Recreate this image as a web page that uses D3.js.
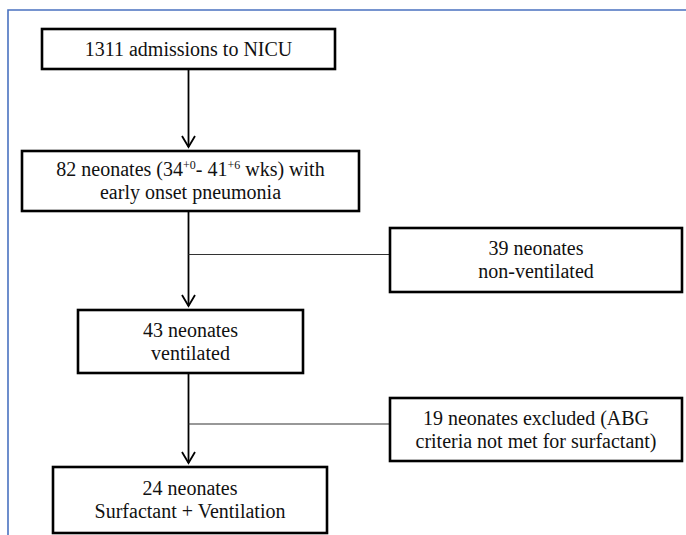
<!DOCTYPE html>
<html>
<head>
<meta charset="utf-8">
<script src="https://cdn.jsdelivr.net/npm/d3@7"></script>
<style>
  html, body { margin: 0; padding: 0; background: #fff; }
  svg { display: block; }
  .box { fill: #fff; stroke: #000; stroke-width: 2.6; }
  .flow { stroke: #000; stroke-width: 1.8; fill: none; }
  .branch { stroke: #333; stroke-width: 1.1; fill: none; }
</style>
</head>
<body>
<svg id="chart"></svg>
<script>
// --- Flow data ---
const nodeIds = ["admit", "pneumonia", "nonvent", "vent", "excluded", "surf"];
const nodeCounts = [1311, 82, 39, 43, 19, 24];
const nodeLines = [
    [[{ t: "1311 admissions to NICU" }]],
    [
        [{ t: "82 neonates (34" }, { t: "+0", sup: true }, { t: "- 41" }, { t: "+6", sup: true }, { t: " wks) with" }],
        [{ t: "early onset pneumonia" }],
    ],
    [[{ t: "39 neonates" }], [{ t: "non-ventilated" }]],
    [[{ t: "43 neonates" }], [{ t: "ventilated" }]],
    [[{ t: "19 neonates excluded (ABG" }], [{ t: "criteria not met for surfactant)" }]],
    [[{ t: "24 neonates" }], [{ t: "Surfactant + Ventilation" }]],
];
// main flow: from -> to, with an optional side branch
const links = [
    { from: "admit", to: "pneumonia" },
    { from: "pneumonia", to: "vent", side: "nonvent" },
    { from: "vent", to: "surf", side: "excluded" },
];

// --- Layout (pixel boxes, kept separate from data) ---
const width = 686;
const height = 535;
const layout = {
    admit: { x0: 42, x1: 335, y0: 29, y1: 69 },
    pneumonia: { x0: 22, x1: 359, y0: 151, y1: 211 },
    nonvent: { x0: 390, x1: 682, y0: 228, y1: 292 },
    vent: { x0: 78, x1: 303, y0: 310, y1: 373 },
    excluded: { x0: 390, x1: 682, y0: 398, y1: 461 },
    surf: { x0: 53, x1: 327, y0: 467, y1: 533 },
};
const spineX = 188.5;
const lineGap = 23;
const fontFam = '"Liberation Serif"';

const svg = d3.select("#chart").attr("width", width).attr("height", height);

// page frame (blue rule on top and left)
svg.append("path")
    .attr("d", `M8,${height} L8,10 L${width},10`)
    .attr("fill", "none")
    .attr("stroke", "#4a72c0")
    .attr("stroke-width", 1.6);

const nodes = nodeIds.map((id, i) => ({ id, count: nodeCounts[i], lines: nodeLines[i], ...layout[id] }));
const byId = new Map(nodes.map((d) => [d.id, d]));

const g = svg.append("g");

// --- Connectors ---
function arrowHead(sel, x, y) {
    sel.append("path")
        .attr("class", "flow")
        .attr("d", `M${x - 6.5},${y - 11} L${x},${y} L${x + 6.5},${y - 11}`);
}

links.forEach((l) => {
    const a = byId.get(l.from);
    const b = byId.get(l.to);
    const tipY = b.y0 - 4;
    g.append("line")
        .attr("class", "flow")
        .attr("x1", spineX).attr("x2", spineX)
        .attr("y1", a.y1).attr("y2", tipY);
    arrowHead(g, spineX, tipY);

    if (l.side) {
        const s = byId.get(l.side);
        // branch line meets the side box at its first text line
        const by = s.y0 + (s.y1 - s.y0) / 2 - lineGap / 2 + 6;
        g.append("line")
            .attr("class", "branch")
            .attr("x1", spineX).attr("x2", s.x0)
            .attr("y1", by).attr("y2", by);
    }
});

// --- Boxes ---
g.selectAll("rect.box")
    .data(nodes)
    .enter()
    .append("rect")
    .attr("class", "box")
    .attr("x", (d) => d.x0)
    .attr("y", (d) => d.y0)
    .attr("width", (d) => d.x1 - d.x0)
    .attr("height", (d) => d.y1 - d.y0);

// --- Labels: one text element per line, straight on the svg ---
nodes.forEach((d) => {
    const cx = (d.x0 + d.x1) / 2;
    const cy = (d.y0 + d.y1) / 2;
    const n = d.lines.length;
    const firstBase = cy - ((n - 1) * lineGap) / 2 + 6.5;

    d.lines.forEach((parts, li) => {
        const line = svg.append("text")
            .attr("x", cx)
            .attr("y", firstBase + li * lineGap)
            .attr("text-anchor", "middle")
            .style("font-family", fontFam)
            .style("font-size", "20px")
            .style("fill", "#111");
        if (parts.length === 1) {
            line.text(parts[0].t);
            return;
        }
        parts.forEach((p) => {
            const s = line.append("tspan").style("font-family", fontFam).text(p.t);
            if (p.sup) {
                s.style("font-size", "12px").attr("baseline-shift", "55%");
            }
        });
    });
});
</script>
</body>
</html>
